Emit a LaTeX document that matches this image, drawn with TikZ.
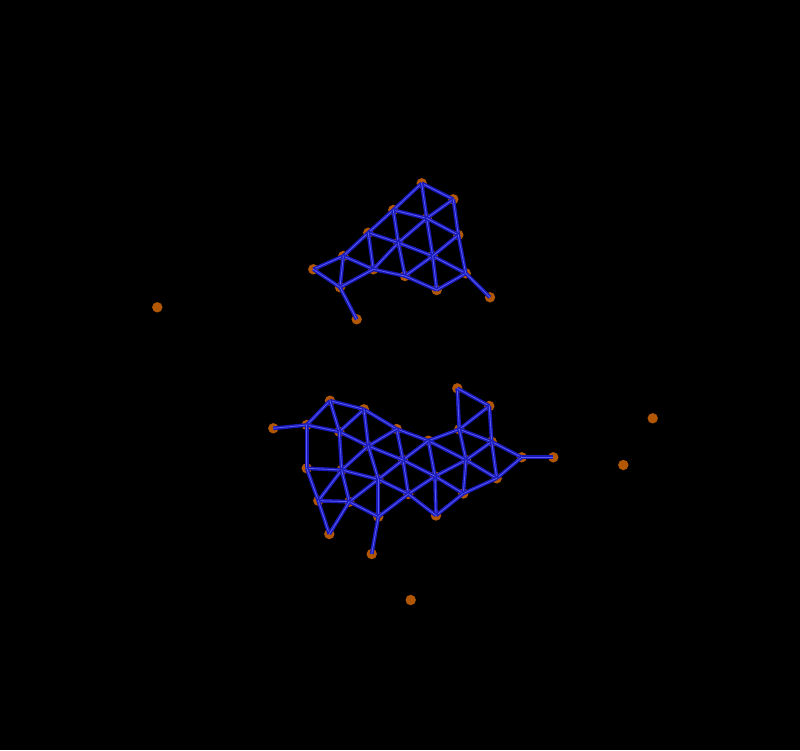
\documentclass[tikz,border=0pt]{standalone}
\definecolor{dotc}{RGB}{178,88,4}
\definecolor{edgeout}{RGB}{26,26,185}
\definecolor{edgein}{RGB}{92,92,245}
\tikzset{
  dot/.style={circle,fill=dotc,draw=none,minimum size=10.4pt,inner sep=0pt},
  edge/.style={draw=edgein,line width=0.8pt,preaction={draw=edgeout,line width=3.8pt}}
}
\begin{document}
\begin{tikzpicture}[x=1pt,y=-1pt]
\fill[black] (0,0) rectangle (800,750);
\useasboundingbox (0,0) rectangle (800,750);
% top cluster
\foreach \n/\x/\y in {tA/421.7/183.3,tB/453.3/199.3,tC/393.3/210,tD/426.7/218.3,tE/368.3/232.7,tF/458.3/235,tG/398.3/242.7,tH/343.3/256,tI/432.7/256,tJ/313.3/269.3,tK/373.3/269.3,tL/405/276,tM/465.7/273.3,tN/340/287.3,tO/436.7/290,tP/356.7/319.3,tQ/490/297.3}
  \node[dot] (\n) at (\x,\y) {};
% bottom cluster
\foreach \n/\x/\y in {ba/330/400.7,bb/364/409.3,bc/273.3/428.3,bd/306.7/425,be/396.7/429,bf/339.3/431.7,bg/368.3/446,bh/403/460,bi/306.7/468.3,bj/341.7/470,bk/378.3/479.3,bl/318.3/500.7,bm/349.3/501.7,bn/408.3/494,bo/378.3/516.7,bp/329.3/534,bq/371.7/554,br/457.3/388.3,bs/489.3/406,bu/428.3/440.7,bv/459.3/429.3,bw/491.7/441.7,by/466/460,bz/521.7/457.3,bZ/553.3/457.3,bA/435/476.3,bB/496.7/478.3,bD/463.3/493.5,bE/436/515.5}
  \node[dot] (\n) at (\x,\y) {};
% isolated
\node[dot] (i1) at (157.3,307.3) {};
\node[dot] (i2) at (652.7,418.3) {};
\node[dot] (i3) at (623.3,465) {};
\node[dot] (i4) at (410.7,600) {};
% top edges
\foreach \a/\b in {A/B,A/C,A/D,B/D,B/F,C/D,C/E,C/G,D/G,D/I,D/F,E/G,G/I,I/M,F/I,F/M,E/H,H/J,E/K,G/K,G/L,I/L,I/O,M/O,L/O,K/L,H/K,H/N,J/N,N/K,N/P,M/Q}
  \draw[edge] (t\a.center) -- (t\b.center);
% bottom edges
\foreach \a/\b in {c/d,d/a,a/b,b/e,e/u,u/v,v/r,r/s,s/v,s/w,v/w,w/z,z/Z,z/B,w/y,w/B,v/y,u/y,y/B,y/A,y/D,B/D,A/D,D/E,A/E,A/n,n/E,u/A,u/h,h/A,e/h,h/n,k/h,k/n,d/f,a/f,f/b,f/g,b/g,g/e,g/h,d/i,f/j,g/j,i/j,j/k,g/k,i/l,j/l,j/m,l/m,m/k,k/o,m/o,o/n,l/p,m/p,o/q}
  \draw[edge] (b\a.center) -- (b\b.center);
\end{tikzpicture}
\end{document}
